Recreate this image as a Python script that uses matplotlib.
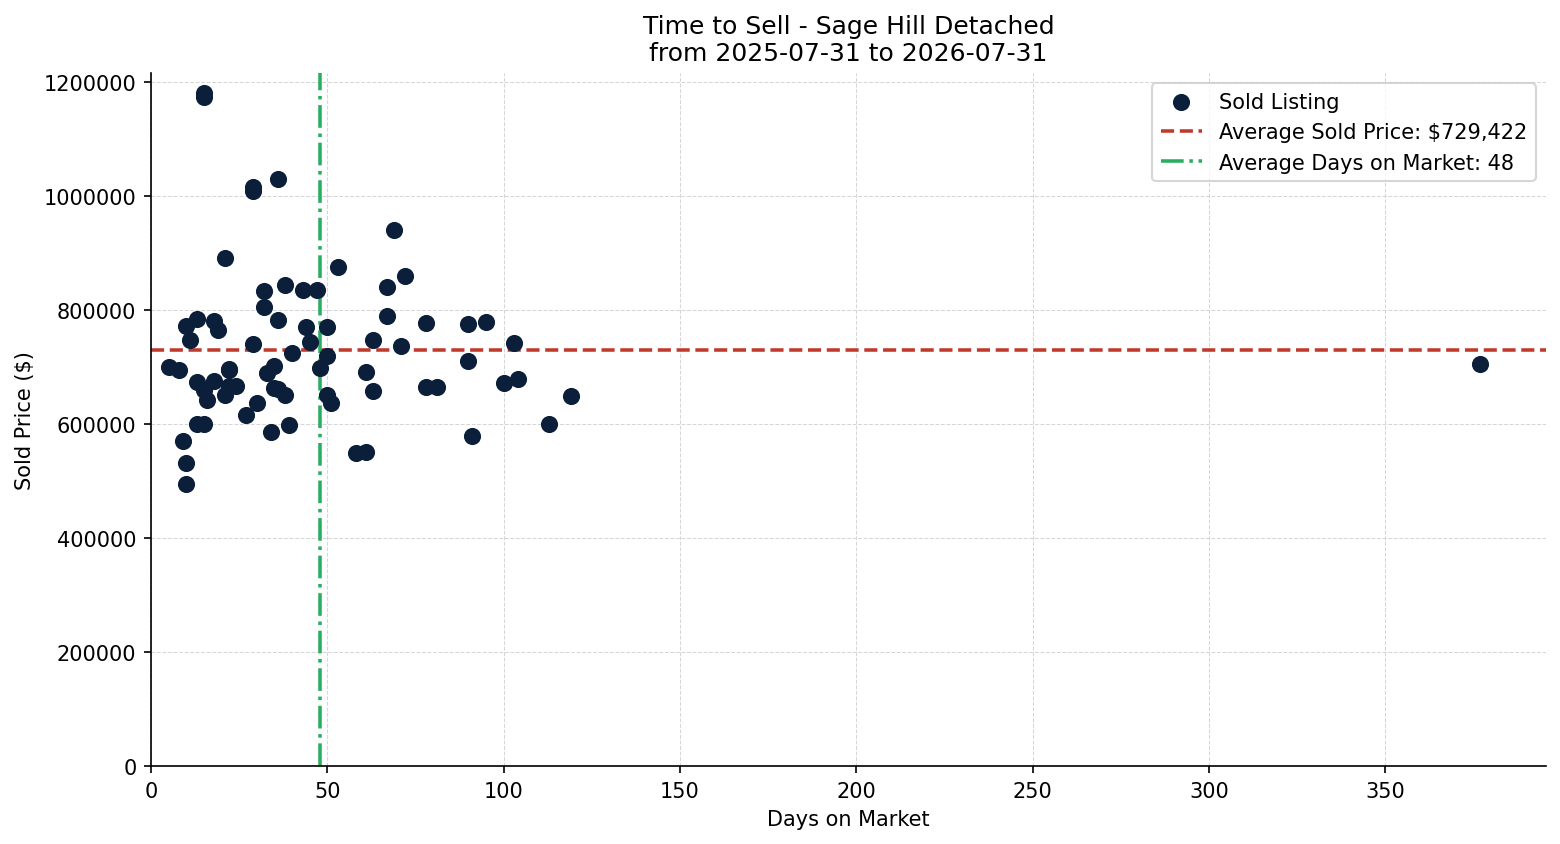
import matplotlib
matplotlib.use("Agg")
import matplotlib.pyplot as plt

days = [5, 8, 9, 10, 10, 10, 11, 13, 13, 13, 15, 15, 15, 15, 16, 18, 18, 19,
        21, 21, 22, 22, 22, 24, 27, 29, 29, 29, 30, 32, 32, 33, 34, 35, 35,
        36, 36, 36, 38, 38, 39, 40, 43, 44, 45, 47, 48, 50, 50, 50, 51, 53,
        58, 61, 61, 63, 63, 67, 67, 69, 71, 72, 78, 78, 81, 90, 90, 91, 95,
        100, 103, 104, 113, 119, 377]
prices = [700000, 695000, 570000, 532000, 495000, 773000, 747000, 784000, 674000, 601000,
          601000, 1182000, 1175000, 660000, 643000, 676000, 781000, 765000,
          892000, 651000, 695000, 697000, 667000, 667000, 616000, 1017000, 1010000, 740000,
          637000, 834000, 805000, 690000, 587000, 702000, 663000,
          1030000, 783000, 661000, 845000, 651000, 598000, 725000, 835000, 770000, 744000,
          835000, 699000, 770000, 720000, 651000, 638000, 875000,
          550000, 552000, 692000, 748000, 658000, 840000, 790000, 940000, 738000, 860000,
          777000, 666000, 666000, 775000, 710000, 580000, 780000,
          673000, 743000, 680000, 601000, 650000, 706000]

avg_price = 729422
avg_days = 48
title = "Time to Sell - Sage Hill Detached\nfrom 2025-07-31 to 2026-07-31"

fig, ax = plt.subplots(figsize=(10.4, 5.633), dpi=150)
ax.scatter(days, prices, s=52, color="#0b1f3a", label="Sold Listing", zorder=3)
ax.axhline(avg_price, color="#c0392b", linestyle="--", linewidth=1.7,
           label=f"Average Sold Price: ${avg_price:,}")
ax.axvline(avg_days, color="#27ae60", linestyle="-.", linewidth=1.7,
           label=f"Average Days on Market: {avg_days}")
ax.set_xlim(left=0)
ax.set_ylim(bottom=0)
ax.ticklabel_format(style="plain", axis="y")
ax.grid(True, linestyle="--", linewidth=0.5, color="#cccccc", alpha=0.8)
ax.set_axisbelow(True)
ax.spines["top"].set_visible(False)
ax.spines["right"].set_visible(False)
ax.set_title(title, fontsize=12)
ax.set_xlabel("Days on Market")
ax.set_ylabel("Sold Price ($)")
ax.legend(loc="upper right")
fig.subplots_adjust(left=0.0968, right=0.991, bottom=0.0923, top=0.9125)
fig.savefig("out.png", dpi=150)
